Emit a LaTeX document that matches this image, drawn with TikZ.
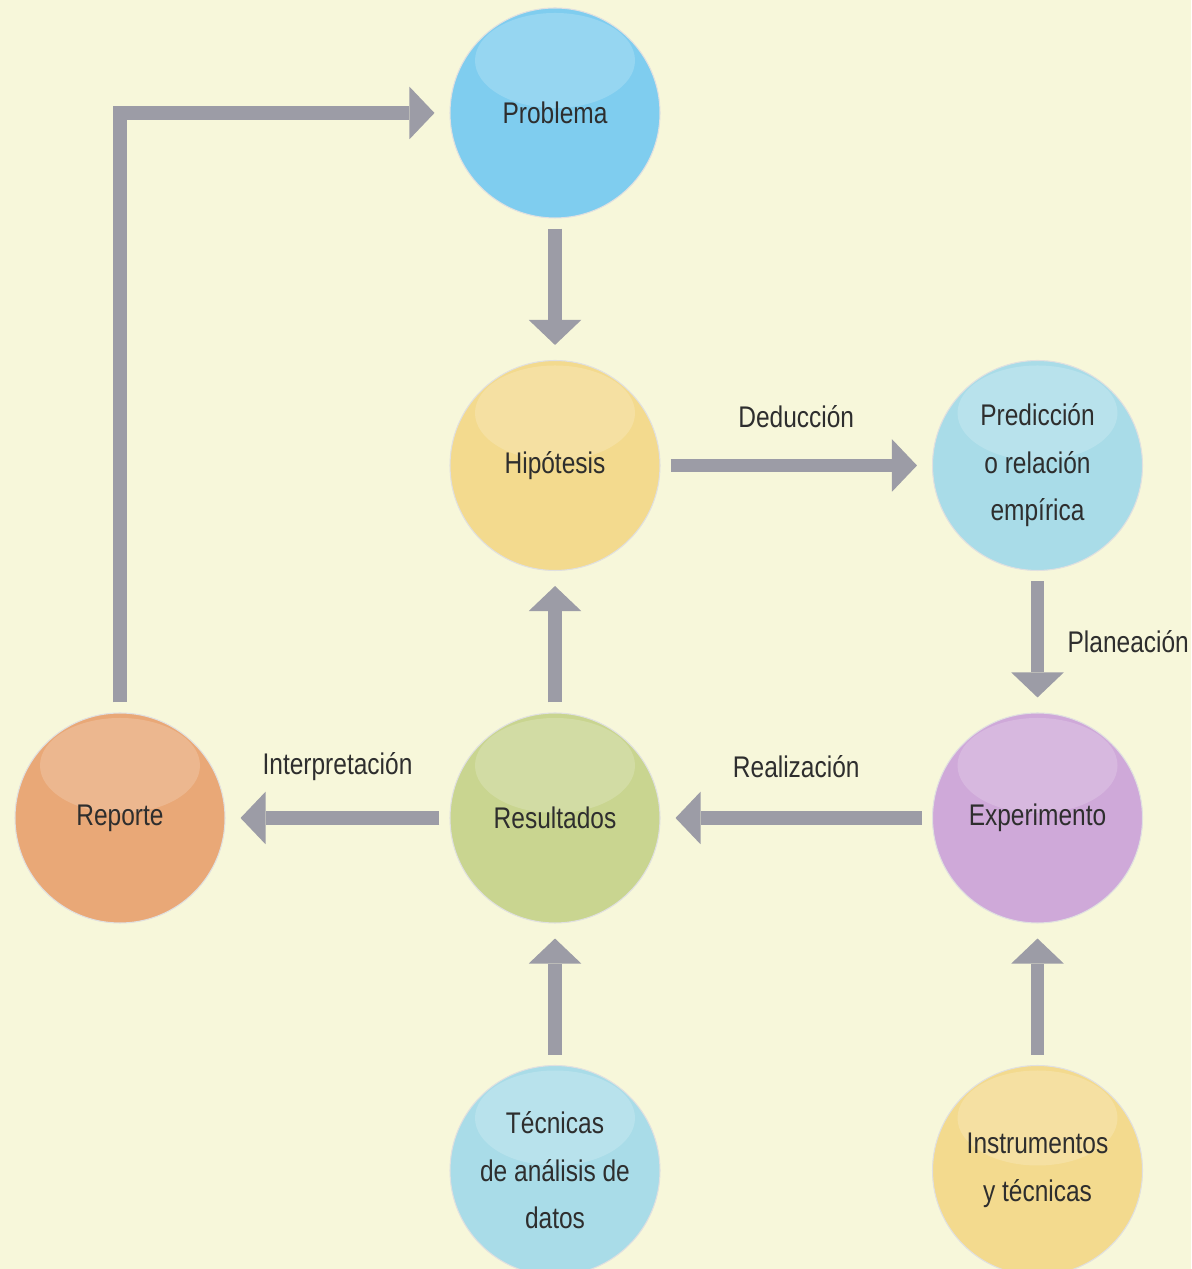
\documentclass[tikz,border=0pt]{standalone}
\usepackage{fontspec}
\setmainfont{Liberation Sans}[FakeStretch=0.82]
\usepackage{tikz}
\usetikzlibrary{arrows.meta,positioning}

\definecolor{cream}{HTML}{F7F7DA}
\definecolor{arrowgray}{HTML}{9C9CA6}
\definecolor{txtgray}{HTML}{2E2E2E}
\definecolor{skyblue}{HTML}{7FCDEF}
\definecolor{paleblue}{HTML}{A9DCE8}
\definecolor{sand}{HTML}{F3DA8E}
\definecolor{lilac}{HTML}{CFA9D9}
\definecolor{olive}{HTML}{C9D590}
\definecolor{peach}{HTML}{E9A877}

\begin{document}
\begin{tikzpicture}[->,>={Triangle[length=0.5cm,width=1.05cm,line width=0pt]},shorten >=0.3cm,shorten <=0.2cm,
                    auto,node distance=7.05cm,
                    font=\fontsize{17pt}{27pt}\selectfont,text=txtgray]
  \tikzstyle{bubble}=[circle,minimum size=4.2cm,inner sep=0pt,align=center,
                      draw=black!12,line width=0.6pt,
                      path picture={\fill[white,opacity=0.18]
                        ([yshift=-1.05cm]path picture bounding box.north) ellipse (1.6cm and 0.95cm);}]
  \tikzstyle{flow}=[color=arrowgray,line width=0.27cm,every node/.style={text=txtgray}]

  \fill[cream,use as bounding box] (0,0) rectangle (23.82,25.38);

  \node[bubble,fill=skyblue] (prob) at (11.1,23.12) {Problema};
  \node[bubble,fill=sand]     (hip)  [below of=prob]    {Hipótesis};
  \node[bubble,fill=paleblue] (pred) [right of=hip,node distance=9.65cm] {Predicción\\o relación\\empírica};
  \node[bubble,fill=lilac]    (exp)  [below of=pred]    {Experimento};
  \node[bubble,fill=olive]    (res)  [below of=hip]     {Resultados};
  \node[bubble,fill=peach]    (rep)  [left of=res,node distance=8.7cm] {Reporte};
  \node[bubble,fill=paleblue] (tec)  [below of=res]     {Técnicas\\de análisis de\\datos};
  \node[bubble,fill=sand]     (ins)  [below of=exp]     {Instrumentos\\y técnicas};

  \path[flow] (prob) edge (hip)
        (hip) edge node[above=0.5cm] {Deducción} (pred)
        (pred) edge node[right=0.35cm] {Planeación} (exp)
        (exp) edge node[above=0.55cm] {Realización} (res)
        (res) edge node[above=0.5cm] {Interpretación} (rep)
        (res) edge (hip)
        (tec) edge (res)
        (ins) edge (exp);
  \draw[flow] (rep) |- (prob);
\end{tikzpicture}
\end{document}
